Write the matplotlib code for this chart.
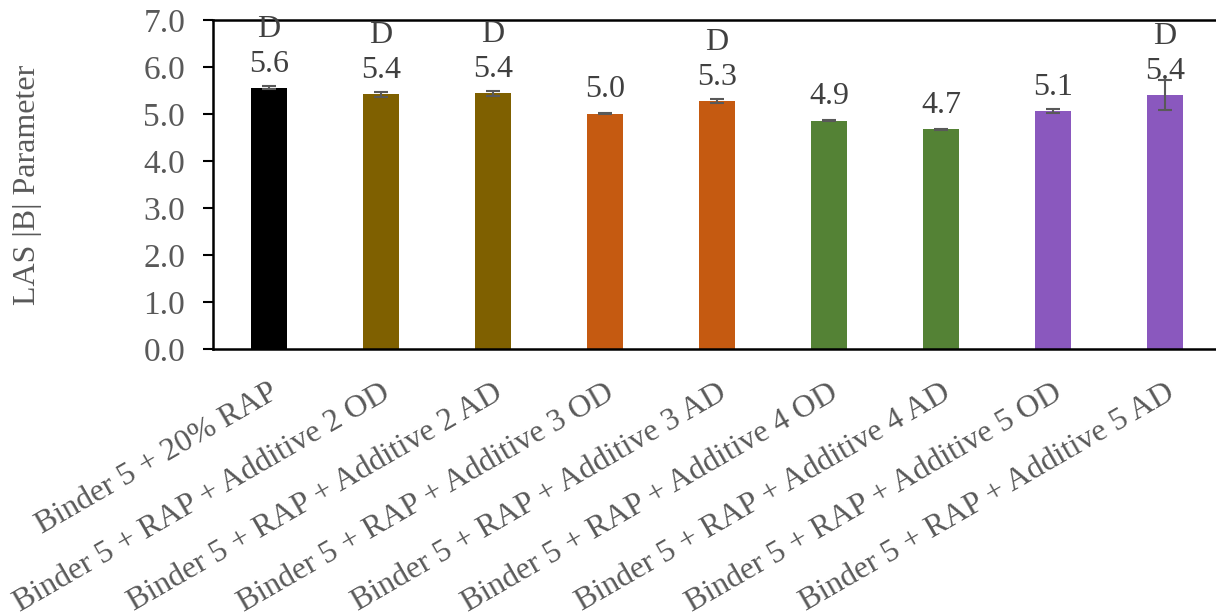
import numpy as np
import matplotlib.pyplot as plt

plt.rcParams['font.family'] = ['Liberation Serif', 'DejaVu Serif']

# --- data ---
labels = ['Binder 5 + 20% RAP',
          'Binder 5 + RAP + Additive 2 OD', 'Binder 5 + RAP + Additive 2 AD',
          'Binder 5 + RAP + Additive 3 OD', 'Binder 5 + RAP + Additive 3 AD',
          'Binder 5 + RAP + Additive 4 OD', 'Binder 5 + RAP + Additive 4 AD',
          'Binder 5 + RAP + Additive 5 OD', 'Binder 5 + RAP + Additive 5 AD']
values = [5.56, 5.42, 5.44, 5.01, 5.28, 4.86, 4.68, 5.07, 5.41]
errors = [0.03, 0.05, 0.05, 0.01, 0.04, 0.01, 0.01, 0.04, 0.32]
groups = ['D', 'D', 'D', '', 'D', '', '', '', 'D']
colors = ['#000000', '#7F6000', '#7F6000', '#C55A11', '#C55A11',
          '#548235', '#548235', '#8A58BE', '#8A58BE']

grey = '#595959'
dark = '#404040'
fig = plt.figure(figsize=(12.16, 6.16), dpi=100)
ax = fig.add_axes([213 / 1216, 267 / 616, 1008 / 1216, 329 / 616])

x = np.arange(len(values))
ax.bar(x, values, width=0.32, color=colors, zorder=2)
ax.errorbar(x, values, yerr=errors, fmt='none', ecolor=grey, elinewidth=1.5,
            capsize=5, capthick=1.5, zorder=3)

for xi, v, g in zip(x, values, groups):
    ax.annotate(f'{v:.1f}', (xi, v), xytext=(0, 17), textcoords='offset points',
                ha='center', va='center', fontsize=23, color=dark)
    if g:
        ax.annotate(g, (xi, v), xytext=(0, 42), textcoords='offset points',
                    ha='center', va='center', fontsize=23, color=dark)

ax.set_xlim(-0.5, 8.5)
ax.set_ylim(0, 7)
ticks = np.arange(0, 7.1, 1.0)
ax.set_yticks(ticks)
ax.set_yticklabels([f'{t:.1f}' for t in ticks])
ax.set_xticks(x)
ax.set_xticklabels(labels, rotation=30, ha='right', rotation_mode='anchor')
ax.tick_params(axis='y', labelsize=24, labelcolor=grey, length=7, width=1.5, pad=13)
ax.tick_params(axis='x', labelsize=23, labelcolor=grey, length=0, pad=21)
ax.set_ylabel('LAS |B| Parameter', fontsize=23, color=grey)
ax.yaxis.set_label_coords(-0.170, 0.5)

for s in ['left', 'bottom', 'top']:
    ax.spines[s].set_linewidth(1.8)
    ax.spines[s].set_color('black')
ax.spines['right'].set_visible(False)

fig.savefig('out.png', dpi=100)
